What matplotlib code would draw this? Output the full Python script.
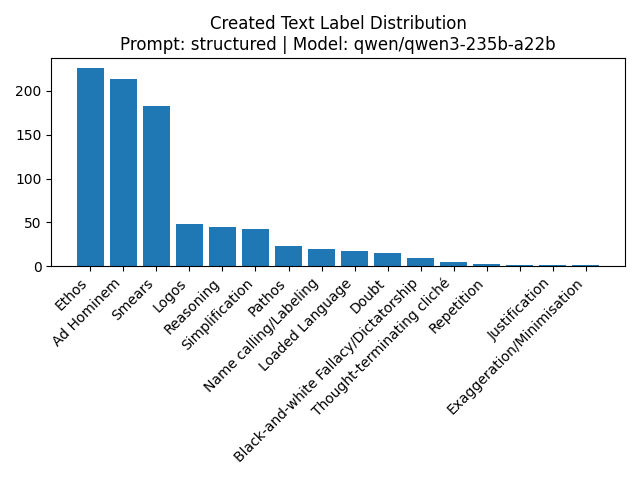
import matplotlib
matplotlib.use("Agg")
import matplotlib.pyplot as plt

labels = ["Ethos", "Ad Hominem", "Smears", "Logos", "Reasoning", "Simplification",
          "Pathos", "Name calling/Labeling", "Loaded Language", "Doubt",
          "Black-and-white Fallacy/Dictatorship", "Thought-terminating cliché",
          "Repetition", "", "Justification", "Exaggeration/Minimisation"]
counts = [226, 213, 183, 48, 45, 42, 23, 20, 18, 15, 10, 5, 3, 2, 1, 1]


def main():
    fig, ax = plt.subplots(figsize=(6.4, 4.8), dpi=100)
    ax.bar(range(len(labels)), counts)
    ax.set_xticks(range(len(labels)))
    ax.set_xticklabels(labels, rotation=45, ha="right")
    ax.set_title("Created Text Label Distribution\nPrompt: structured | Model: qwen/qwen3-235b-a22b")
    plt.tight_layout()
    plt.savefig("out.png")


if __name__ == '__main__':
    main()
